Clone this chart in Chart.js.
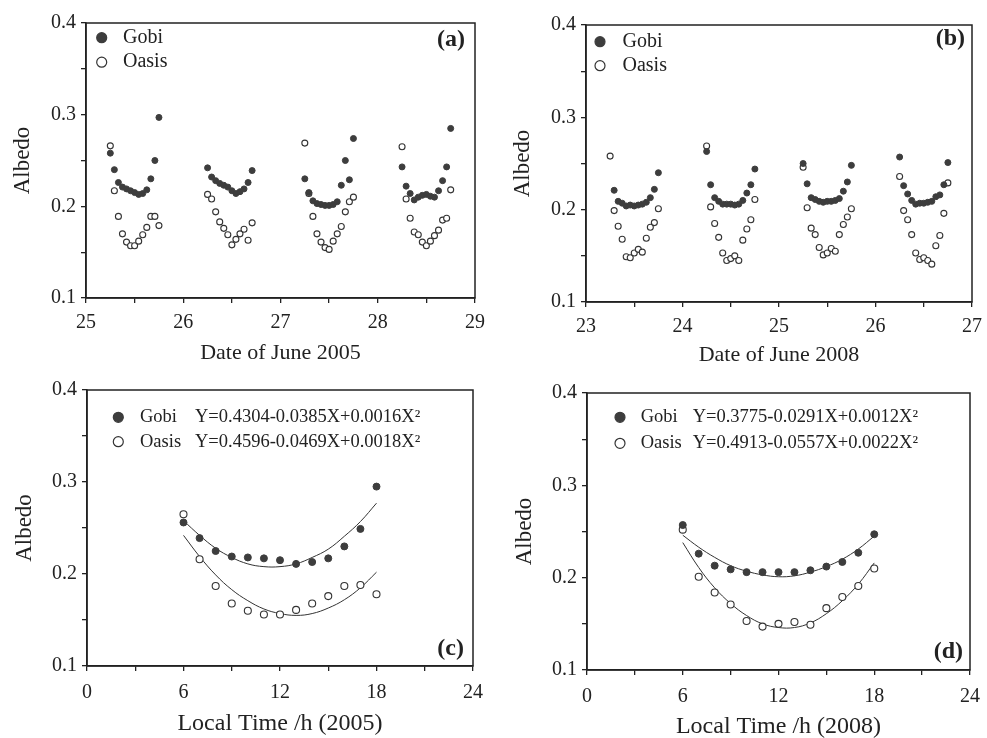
<!DOCTYPE html>
<html>
<head>
<meta charset="utf-8">
<script src="https://cdn.jsdelivr.net/npm/chart.js@4.4.1/dist/chart.umd.min.js"></script>
<style>
  body { margin: 0; background: #fff; overflow: hidden; }
  canvas { position: absolute; }
</style>
</head>
<body>
<canvas id="pa" width="493" height="368" style="left:0;top:0"></canvas>
<canvas id="pb" width="490" height="370" style="left:500px;top:0"></canvas>
<canvas id="pc" width="493" height="378" style="left:0;top:360px"></canvas>
<canvas id="pd" width="490" height="382" style="left:500px;top:360px"></canvas>
<script>
// hours of the day (local time), one reading per hour
const hours = [6, 7, 8, 9, 10, 11, 12, 13, 14, 15, 16, 17, 18];

// (a) June 2005, one row per day
const days2005 = [25, 26, 27, 28];
const gobi2005 = [
  [0.258, 0.240, 0.226, 0.221, 0.219, 0.217, 0.215, 0.213, 0.214, 0.218, 0.230, 0.250, 0.297],
  [0.242, 0.232, 0.228, 0.225, 0.223, 0.221, 0.217, 0.214, 0.216, 0.219, 0.226, 0.239, null],
  [0.230, 0.215, 0.206, 0.203, 0.202, 0.201, 0.201, 0.202, 0.205, 0.223, 0.250, 0.229, 0.274],
  [0.243, 0.222, 0.214, 0.207, 0.210, 0.212, 0.213, 0.211, 0.210, 0.217, 0.228, 0.243, 0.285]
];
const oasis2005 = [
  [0.266, 0.217, 0.189, 0.170, 0.161, 0.157, 0.157, 0.162, 0.169, 0.177, 0.189, 0.189, 0.179],
  [0.213, 0.208, 0.194, 0.183, 0.176, 0.169, 0.158, 0.164, 0.170, 0.175, 0.163, 0.182, null],
  [0.269, 0.214, 0.189, 0.170, 0.161, 0.155, 0.153, 0.162, 0.170, 0.178, 0.194, 0.205, 0.210],
  [0.265, 0.208, 0.187, 0.172, 0.169, 0.161, 0.157, 0.162, 0.168, 0.174, 0.185, 0.187, 0.218]
];

// (b) June 2008
const days2008 = [23, 24, 25, 26];
const gobi2008 = [
  [null, 0.221, 0.209, 0.207, 0.204, 0.205, 0.204, 0.205, 0.206, 0.208, 0.213, 0.222, 0.240],
  [0.263, 0.227, 0.213, 0.209, 0.206, 0.206, 0.206, 0.205, 0.206, 0.210, 0.218, 0.227, 0.244],
  [0.250, 0.228, 0.213, 0.211, 0.209, 0.208, 0.209, 0.209, 0.210, 0.212, 0.220, 0.230, 0.248],
  [0.257, 0.226, 0.217, 0.210, 0.206, 0.207, 0.207, 0.208, 0.209, 0.214, 0.216, 0.227, 0.251]
];
const oasis2008 = [
  [0.258, 0.199, 0.182, 0.168, 0.149, 0.148, 0.153, 0.157, 0.154, 0.169, 0.181, 0.186, 0.201],
  [0.269, 0.203, 0.185, 0.170, 0.153, 0.145, 0.147, 0.150, 0.145, 0.167, 0.179, 0.189, 0.211],
  [0.246, 0.202, 0.180, 0.173, 0.159, 0.151, 0.153, 0.158, 0.155, 0.173, 0.184, 0.192, 0.201],
  [0.236, 0.199, 0.189, 0.173, 0.153, 0.146, 0.148, 0.145, 0.141, 0.161, 0.172, 0.196, 0.229]
];

// (c) and (d) diurnal course with fitted curves (curve read hour by hour)
const gobiC = [0.256, 0.239, 0.225, 0.219, 0.218, 0.217, 0.215, 0.211, 0.213, 0.217, 0.230, 0.249, 0.295];
const oasisC = [0.265, 0.216, 0.187, 0.168, 0.160, 0.156, 0.156, 0.161, 0.168, 0.176, 0.187, 0.188, 0.178];
const fitGobiC = [0.258, 0.242, 0.228, 0.218, 0.211, 0.208, 0.208, 0.211, 0.218, 0.227, 0.241, 0.257, 0.277];
const fitOasisC = [0.242, 0.219, 0.199, 0.183, 0.171, 0.162, 0.157, 0.155, 0.157, 0.163, 0.172, 0.185, 0.202];

const gobiD = [0.257, 0.226, 0.213, 0.209, 0.206, 0.206, 0.206, 0.206, 0.208, 0.212, 0.217, 0.227, 0.247];
const oasisD = [0.252, 0.201, 0.184, 0.171, 0.153, 0.147, 0.150, 0.152, 0.149, 0.167, 0.179, 0.191, 0.210];
const fitGobiD = [0.246, 0.233, 0.222, 0.213, 0.207, 0.203, 0.201, 0.202, 0.206, 0.212, 0.220, 0.231, 0.245];
const fitOasisD = [0.238, 0.211, 0.189, 0.172, 0.159, 0.150, 0.146, 0.146, 0.151, 0.161, 0.175, 0.193, 0.216];

const fitsC = ['Y=0.4304-0.0385X+0.0016X\u00b2', 'Y=0.4596-0.0469X+0.0018X\u00b2'];
const fitsD = ['Y=0.3775-0.0291X+0.0012X\u00b2', 'Y=0.4913-0.0557X+0.0022X\u00b2'];

const ink = '#222';
const serif = "'Liberation Serif', 'Times New Roman', serif";

function byDay(days, rows) {
  const pts = [];
  days.forEach((d, i) => hours.forEach((h, j) => {
    if (rows[i][j] !== null) pts.push({ x: d + h / 24, y: rows[i][j] });
  }));
  return pts;
}
const byHour = vals => hours.map((h, i) => ({ x: h, y: vals[i] }));

// box round the plot, legend keys and panel letter
const panelDeco = {
  id: 'deco',
  afterDraw(chart, args, o) {
    const { ctx, chartArea: a } = chart;
    ctx.save();
    ctx.strokeStyle = ink;
    ctx.lineWidth = 1.5;
    ctx.strokeRect(a.left, a.top, a.right - a.left, a.bottom - a.top);
    ctx.textBaseline = 'middle';
    for (let i = 0; i < 2; i++) {
      const ds = chart.data.datasets[i];
      const y = a.top + o.dy + i * o.gap;
      ctx.beginPath();
      ctx.arc(a.left + o.dx, y, 5, 0, Math.PI * 2);
      ctx.fillStyle = ds.backgroundColor;
      ctx.fill();
      ctx.lineWidth = 1.2;
      ctx.strokeStyle = ds.borderColor;
      ctx.stroke();
      ctx.fillStyle = ink;
      ctx.font = o.size + 'px ' + serif;
      ctx.fillText(ds.label, a.left + o.tx, y);
      if (o.eqs) ctx.fillText(o.eqs[i], a.left + o.ex, y);
    }
    ctx.font = 'bold 24px ' + serif;
    ctx.textAlign = 'right';
    ctx.fillText(o.tag, a.right - o.tagX, o.tagTop ? a.top + o.tagY : a.bottom - o.tagY);
    ctx.restore();
  }
};

function panel(id, cfg) {
  const gobiStyle = { backgroundColor: '#3d3d3d', borderColor: '#3d3d3d', pointRadius: cfg.r, borderWidth: 1 };
  const oasisStyle = { backgroundColor: '#ffffff', borderColor: '#333', pointRadius: cfg.r, borderWidth: 1.1 };
  const datasets = [
    { label: 'Gobi', data: cfg.gobi, ...gobiStyle },
    { label: 'Oasis', data: cfg.oasis, ...oasisStyle }
  ];
  (cfg.fits || []).forEach(f => datasets.push({
    label: 'fit', data: f, showLine: true, tension: 0.4, pointRadius: 0,
    borderColor: '#333', borderWidth: 1, backgroundColor: '#333'
  }));
  const axisGrid = { drawOnChartArea: false, drawTicks: true, tickLength: 5, color: ink, lineWidth: 1.3 };
  return new Chart(document.getElementById(id), {
    type: 'scatter',
    data: { datasets },
    plugins: [panelDeco],
    options: {
      responsive: false,
      animation: false,
      layout: { padding: { top: cfg.top, right: cfg.right, left: 0, bottom: 0 } },
      scales: {
        x: {
          type: 'linear', min: cfg.xMin, max: cfg.xMax,
          grid: axisGrid,
          border: { color: ink, width: 1.5 },
          ticks: {
            stepSize: cfg.xStep, padding: cfg.xPad, color: ink, maxRotation: 0, autoSkip: false,
            font: { family: serif, size: 20 },
            callback: v => (Math.abs(v % cfg.xMajor) < 1e-6 ? v : '')
          },
          title: {
            display: true, text: cfg.xTitle, color: ink,
            font: { family: serif, size: cfg.xTitleSize }, padding: { top: 0, bottom: cfg.xTitlePad }
          },
          afterFit: s => { s.height = cfg.xH; }
        },
        y: {
          min: 0.1, max: 0.4,
          grid: axisGrid,
          border: { color: ink, width: 1.5 },
          ticks: {
            stepSize: 0.05, padding: 5, color: ink, autoSkip: false,
            font: { family: serif, size: 20 },
            callback: v => (Math.abs(v * 10 - Math.round(v * 10)) < 1e-6 ? v.toFixed(1) : '')
          },
          title: {
            display: true, text: 'Albedo', color: ink,
            font: { family: serif, size: 23 }, padding: { top: cfg.yTitlePad, bottom: 0 }
          },
          afterFit: s => { s.width = cfg.yW; }
        }
      },
      plugins: {
        legend: { display: false },
        tooltip: { enabled: false },
        deco: cfg.deco
      }
    }
  });
}

panel('pa', {
  gobi: byDay(days2005, gobi2005), oasis: byDay(days2005, oasis2005), r: 3,
  xMin: 25, xMax: 29, xStep: 0.5, xMajor: 1, xPad: 8,
  xTitle: 'Date of June 2005', xTitleSize: 22, xTitlePad: 2, xH: 70,
  yW: 86, yTitlePad: 9, top: 23, right: 14,
  deco: { dx: 15.7, dy: 14.7, tx: 37, gap: 24.5, size: 20, tag: '(a)', tagX: 10, tagY: 17, tagTop: true }
});

panel('pb', {
  gobi: byDay(days2008, gobi2008), oasis: byDay(days2008, oasis2008), r: 3,
  xMin: 23, xMax: 27, xStep: 0.5, xMajor: 1, xPad: 8,
  xTitle: 'Date of June 2008', xTitleSize: 22, xTitlePad: 2, xH: 68,
  yW: 86, yTitlePad: 9, top: 25, right: 12,
  deco: { dx: 14, dy: 16.7, tx: 36.5, gap: 24, size: 20, tag: '(b)', tagX: 7, tagY: 14, tagTop: true }
});

panel('pc', {
  gobi: byHour(gobiC), oasis: byHour(oasisC), r: 3.5,
  fits: [byHour(fitGobiC), byHour(fitOasisC)],
  xMin: 0, xMax: 24, xStep: 3, xMajor: 6, xPad: 10,
  xTitle: 'Local Time /h (2005)', xTitleSize: 24, xTitlePad: 0, xH: 72,
  yW: 87, yTitlePad: 11, top: 30, right: 14,
  deco: { dx: 31.3, dy: 27.3, tx: 53, ex: 108, gap: 24.4, size: 18.5, eqs: fitsC, tag: '(c)', tagX: 9, tagY: 17, tagTop: false }
});

panel('pd', {
  gobi: byHour(gobiD), oasis: byHour(oasisD), r: 3.5,
  fits: [byHour(fitGobiD), byHour(fitOasisD)],
  xMin: 0, xMax: 24, xStep: 3, xMajor: 6, xPad: 10,
  xTitle: 'Local Time /h (2008)', xTitleSize: 24, xTitlePad: 1, xH: 72,
  yW: 87, yTitlePad: 11, top: 33, right: 11,
  deco: { dx: 33, dy: 24.3, tx: 53.7, ex: 105.7, gap: 26, size: 18.5, eqs: fitsD, tag: '(d)', tagX: 7, tagY: 18, tagTop: false }
});
</script>
</body>
</html>
